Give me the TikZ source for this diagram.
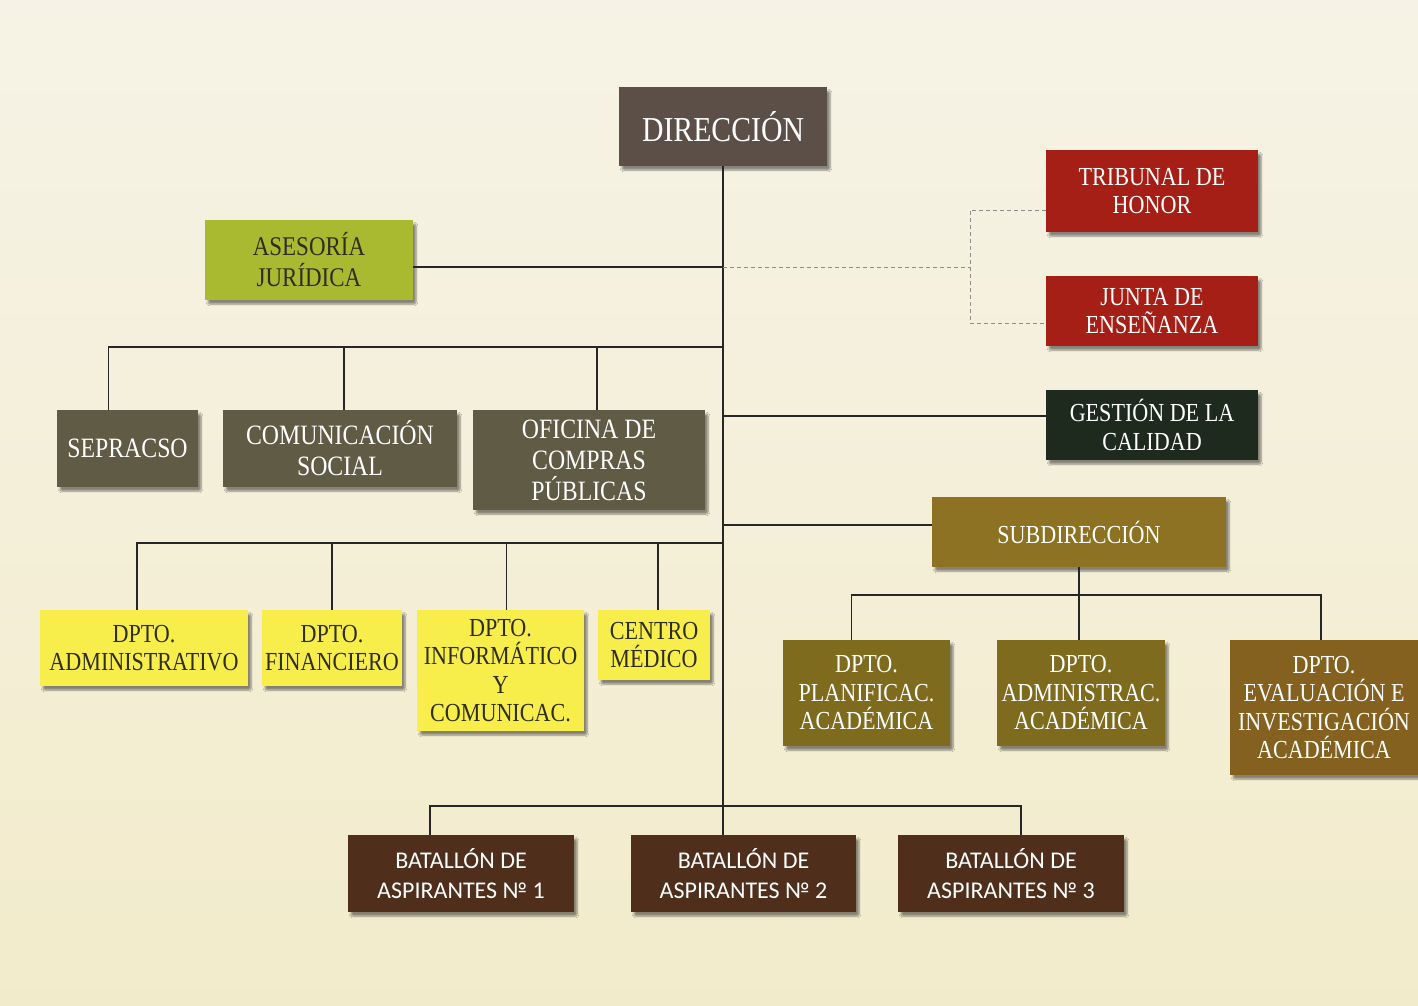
\documentclass[tikz,border=0pt]{standalone}
\usepackage{fontspec}
\setmainfont{Liberation Serif}[FakeStretch=0.85]
\newfontfamily\batfont{Carlito}
\usetikzlibrary{shadows.blur}
\definecolor{papertop}{HTML}{F6F3E6}
\definecolor{paperbot}{HTML}{F2EBCB}
\definecolor{dircol}{HTML}{5B4F47}
\definecolor{asescol}{HTML}{A9BA30}
\definecolor{honorcol}{HTML}{A51F17}
\definecolor{calidcol}{HTML}{1F2A1E}
\definecolor{subcol}{HTML}{8C7222}
\definecolor{staffcol}{HTML}{5F5B45}
\definecolor{deptcol}{HTML}{F7EE4C}
\definecolor{acadcol}{HTML}{7E6B1E}
\definecolor{evalcol}{HTML}{84611E}
\definecolor{batcol}{HTML}{4F2E1C}
\definecolor{inkcol}{HTML}{2E2E1E}
\tikzset{
  unit/.style={align=center, inner sep=0pt, text=white, font=\fontsize{26}{28.5}\selectfont,
    blur shadow={shadow blur steps=6, shadow blur extra rounding=2pt, shadow xshift=3pt, shadow yshift=-4pt, shadow opacity=45}},
  dirbox/.style={unit, fill=dircol, minimum width=208, minimum height=79, font=\fontsize{35}{40}\selectfont},
  asesbox/.style={unit, fill=asescol, text=inkcol, minimum width=208, minimum height=80, font=\fontsize{27}{31}\selectfont},
  honorbox/.style={unit, fill=honorcol, minimum width=212, minimum height=70},
  calidbox/.style={unit, fill=calidcol, minimum width=212, minimum height=70},
  subbox/.style={unit, fill=subcol, minimum width=294, minimum height=70},
  staffbox/.style={unit, fill=staffcol, minimum height=77, font=\fontsize{28}{31}\selectfont},
  deptbox/.style={unit, fill=deptcol, text=inkcol, minimum height=76},
  acadbox/.style={unit, fill=acadcol, minimum width=167, minimum height=106},
  batbox/.style={unit, fill=batcol, minimum width=226, minimum height=77, font=\batfont\fontsize{24}{30}\selectfont},
  link/.style={line width=1.5pt, draw=black!85},
  dashlink/.style={line width=.8pt, draw=black!45, dash pattern=on 4pt off 3pt}
}
\begin{document}
\begin{tikzpicture}[x=1pt,y=-1pt]
\useasboundingbox (0,0) rectangle (1418,1005);
\shade[top color=papertop, bottom color=paperbot] (0,0) rectangle (1418,1005);

% top of the chart
\node[dirbox] (dir) at (723,126.5) {DIRECCIÓN};
\node[asesbox] (ases) at (309,260) {ASESORÍA\\JURÍDICA};
\node[honorbox, minimum height=82] (trib) at (1152,191) {TRIBUNAL DE\\HONOR};
\node[honorbox] (junta) at (1152,311) {JUNTA DE\\ENSEÑANZA};
\node[calidbox] (gest) at (1152,425) {GESTIÓN DE LA\\CALIDAD};
\node[subbox] (sub) at (1079,532) {SUBDIRECCIÓN};

% staff units
\node[staffbox, minimum width=141] (sep) at (127.5,448.5) {SEPRACSO};
\node[staffbox, minimum width=234] (com) at (340,448.5) {COMUNICACIÓN\\SOCIAL};
\node[staffbox, minimum width=232, minimum height=100] (ofi) at (589,460) {OFICINA DE\\COMPRAS\\PÚBLICAS};

% departments
\node[deptbox, minimum width=208] (dadm) at (144,648) {DPTO.\\ADMINISTRATIVO};
\node[deptbox, minimum width=140] (dfin) at (332,648) {DPTO.\\FINANCIERO};
\node[deptbox, minimum width=167, minimum height=121] (dinf) at (500.5,670.5) {DPTO.\\INFORMÁTICO\\Y\\COMUNICAC.};
\node[deptbox, minimum width=112, minimum height=70] (cmed) at (654,645) {CENTRO\\MÉDICO};
\node[acadbox] (dplan) at (866.5,693) {DPTO.\\PLANIFICAC.\\ACADÉMICA};
\node[acadbox, minimum width=168] (dadmac) at (1081,693) {DPTO.\\ADMINISTRAC.\\ACADÉMICA};
\node[acadbox, fill=evalcol, minimum width=188, minimum height=135] (deval) at (1324,707.5) {DPTO.\\EVALUACIÓN E\\INVESTIGACIÓN\\ACADÉMICA};

% battalions
\node[batbox] (bat1) at (461,873.5) {BATALLÓN DE\\ASPIRANTES № 1};
\node[batbox, minimum width=225] (bat2) at (743.5,873.5) {BATALLÓN DE\\ASPIRANTES № 2};
\node[batbox] (bat3) at (1011,873.5) {BATALLÓN DE\\ASPIRANTES № 3};

% junctions
\coordinate (jA) at ([yshift=-7]ases.east);
\coordinate (jD) at (970,267);
\coordinate (jT) at ([yshift=-19]trib.west);
\coordinate (jJ) at ([yshift=-12]junta.west);
\coordinate (jB) at (723,347);
\coordinate (jG) at ([yshift=9]gest.west);
\coordinate (jS) at ([yshift=7]sub.west);
\coordinate (jC) at (723,543);
\coordinate (jE) at ([yshift=-28]sub.south);
\coordinate (jF) at (723,806);

% lines
\draw[link] (dir.south) -- (dir.south |- bat2.north);
\draw[link] (jA) -- (jA -| dir.south);
\draw[dashlink] (jA -| dir.south) -- (jD);
\draw[dashlink] (jT) -| (jD) |- (jJ);
\draw[link] ([xshift=-19]sep.north) |- (jB);
\draw[link] ([xshift=4]com.north) -- ([xshift=4]com.north |- jB);
\draw[link] ([xshift=8]ofi.north) -- ([xshift=8]ofi.north |- jB);
\draw[link] (jG) -- (jG -| dir.south);
\draw[link] (jS) -- (jS -| dir.south);
\draw[link] ([xshift=-7]dadm.north) |- (jC);
\draw[link] (dfin.north) -- (dfin.north |- jC);
\draw[link] ([xshift=6]dinf.north) -- ([xshift=6]dinf.north |- jC);
\draw[link] ([xshift=4]cmed.north) -- ([xshift=4]cmed.north |- jC);
\draw[link] (sub.south) -- (jE);
\draw[link] ([xshift=-15]dplan.north) |- (jE) -| ([xshift=-3]deval.north);
\draw[link] (jE) -- (jE |- dadmac.north);
\draw[link] ([xshift=-31]bat1.north) |- (jF) -| ([xshift=10]bat3.north);
\end{tikzpicture}
\end{document}
